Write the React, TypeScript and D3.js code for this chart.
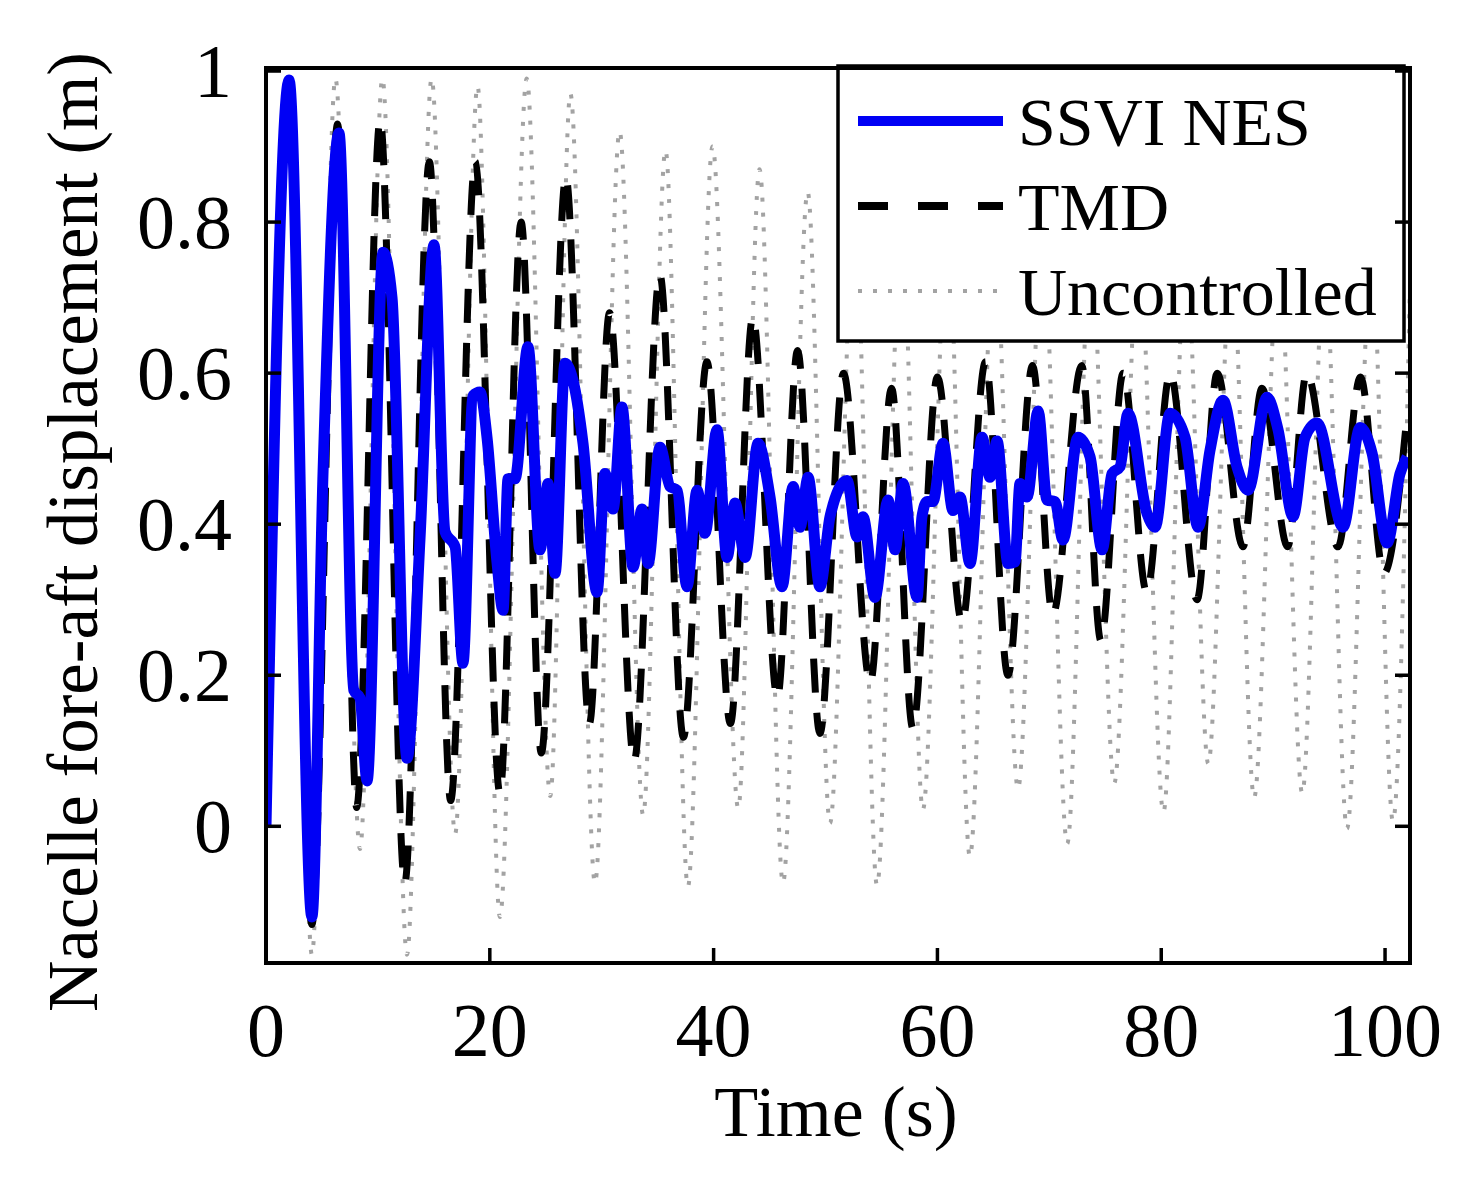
import React from 'react';
import * as d3 from 'd3';

// axis ticks
const xTicks = [0, 20, 40, 60, 80, 100];
const yTicks = [0, 0.2, 0.4, 0.6, 0.8, 1];
const yTickLabels = ['0', '0.2', '0.4', '0.6', '0.8', '1'];

// [time (s), displacement (m)] samples for each case
const ssviNes: [number, number][] = [
  [0, 0], [2.06, 0.988], [4.1, -0.12], [5.1, 0.47], [6.52, 0.918], [7.85, 0.18], [8.4, 0.17],
  [9.03, 0.06], [10.46, 0.76], [11.26, 0.7], [12.6, 0.09], [13.76, 0.38], [15.01, 0.77],
  [16.0, 0.39], [16.9, 0.37], [17.6, 0.216], [18.5, 0.57], [19.12, 0.575], [19.75, 0.515],
  [20.64, 0.35], [21.18, 0.286], [21.63, 0.46], [22.25, 0.46], [23.41, 0.635], [24.49, 0.366],
  [25.2, 0.454], [25.83, 0.335], [26.72, 0.613], [27.44, 0.59], [28.33, 0.507], [29.58, 0.31],
  [30.29, 0.467], [31.01, 0.42], [31.81, 0.555], [32.8, 0.343], [33.6, 0.42], [34.14, 0.348],
  [35.21, 0.502], [36.1, 0.45], [36.73, 0.445], [37.62, 0.317], [38.52, 0.445], [39.23, 0.388],
  [40.3, 0.525], [41.2, 0.356], [41.91, 0.428], [42.81, 0.356], [43.97, 0.507], [45.04, 0.436],
  [46.11, 0.317], [47.1, 0.45], [47.72, 0.396], [48.44, 0.462], [49.5, 0.317], [50.4, 0.41],
  [51.92, 0.458], [52.82, 0.383], [53.35, 0.41], [54.42, 0.303], [55.59, 0.432], [56.21, 0.366],
  [56.93, 0.454], [58.18, 0.303], [58.62, 0.41], [59.07, 0.43], [59.6, 0.43], [60.5, 0.507],
  [61.39, 0.418], [62.02, 0.436], [62.91, 0.348], [63.99, 0.515], [64.7, 0.462], [65.33, 0.51],
  [66.31, 0.348], [66.93, 0.35], [67.38, 0.454], [68.01, 0.436], [69.0, 0.55], [69.79, 0.432],
  [70.51, 0.43], [71.22, 0.379], [72.56, 0.515], [73.64, 0.489], [74.71, 0.366], [75.6, 0.467],
  [76.32, 0.476], [77.03, 0.547], [78.73, 0.414], [79.45, 0.396], [80.79, 0.547], [82.13, 0.515],
  [83.29, 0.396], [84.36, 0.498], [85.52, 0.564], [86.77, 0.476], [87.76, 0.445], [89.45, 0.568],
  [90.44, 0.525], [91.78, 0.41], [92.85, 0.515], [93.92, 0.534], [96.25, 0.396], [97.77, 0.528],
  [98.84, 0.494], [100.18, 0.375], [101.34, 0.467], [101.97, 0.489],
];

const tmd: [number, number][] = [
  [0, 0], [2.0, 0.99], [4.1, -0.13], [6.4, 0.93], [8.1, 0.025], [10.2, 0.935], [12.4, -0.075],
  [14.6, 0.88], [16.5, 0.034], [18.7, 0.88], [20.9, 0.044], [22.8, 0.8], [24.6, 0.097],
  [26.8, 0.86], [28.9, 0.136], [30.7, 0.68], [32.9, 0.087], [35.2, 0.73], [37.3, 0.118],
  [39.4, 0.615], [41.5, 0.136], [43.5, 0.674], [45.7, 0.17], [47.5, 0.63], [49.5, 0.123],
  [51.6, 0.6], [54.0, 0.19], [55.9, 0.58], [57.8, 0.13], [60.0, 0.595], [62.2, 0.27],
  [64.3, 0.615], [66.3, 0.2], [68.5, 0.61], [70.3, 0.28], [72.9, 0.61], [74.6, 0.246],
  [76.6, 0.6], [78.7, 0.31], [80.8, 0.6], [83.2, 0.3], [85.0, 0.6], [87.3, 0.37], [89.0, 0.58],
  [91.3, 0.37], [93.0, 0.6], [95.8, 0.37], [97.8, 0.595], [99.9, 0.335], [102.0, 0.55],
];

const uncontrolled: [number, number][] = [
  [0, 0], [2.0, 0.99], [4.1, -0.17], [6.2, 0.99], [8.4, -0.03], [10.4, 0.99], [12.6, -0.17],
  [14.8, 0.99], [16.9, -0.01], [18.9, 0.98], [20.9, -0.12], [23.3, 0.99], [25.4, 0.04],
  [27.2, 0.97], [29.4, -0.075], [31.6, 0.92], [33.7, 0.015], [35.7, 0.895], [37.7, -0.08],
  [39.9, 0.9], [42.2, 0.024], [44.1, 0.87], [46.2, -0.075], [48.4, 0.84], [50.4, 0.004],
  [52.6, 0.82], [54.6, -0.078], [56.8, 0.8], [58.7, 0.022], [60.9, 0.8], [62.9, -0.04],
  [65.1, 0.78], [67.2, 0.05], [69.4, 0.78], [71.6, -0.023], [73.7, 0.77], [75.8, 0.057],
  [78.0, 0.77], [80.2, 0.019], [82.2, 0.76], [84.2, 0.083], [86.3, 0.76], [88.3, 0.038],
  [90.5, 0.76], [92.6, 0.044], [94.6, 0.75], [96.6, -0.003], [98.8, 0.76], [100.7, 0.007],
  [102.2, 0.7],
];

const legendItems = [
  { label: 'SSVI NES', color: '#0000f5', width: 10, dash: undefined as string | undefined },
  { label: 'TMD', color: '#000', width: 8, dash: '30,30' },
  { label: 'Uncontrolled', color: '#a3a3a3', width: 4, dash: '4,11' },
];

const FONT = '"Liberation Serif", "Times New Roman", serif';

export default function App() {
  const plot = { left: 266, right: 1410, top: 68, bottom: 963 };
  const x = d3.scaleLinear().domain([0, 102.23]).range([plot.left, plot.right]);
  const y = d3.scaleLinear().domain([-0.181, 1.004]).range([plot.bottom, plot.top]);

  const line = d3
    .line<[number, number]>()
    .x(d => x(d[0]))
    .y(d => y(d[1]))
    .curve(d3.curveMonotoneX);

  const tickLen = 15;
  const legend = { x: 838, y: 66, w: 566, h: 275 };

  return (
    <div style={{ position: 'absolute', left: 0, top: 0, background: '#fff' }}>
      <svg width={1471} height={1177} style={{ display: 'block', fontFamily: FONT }}>
        <rect width={1471} height={1177} fill="#fff" />
        <defs>
          <clipPath id="plot-area">
            <rect x={plot.left} y={plot.top} width={plot.right - plot.left} height={plot.bottom - plot.top} />
          </clipPath>
        </defs>

        {/* response curves */}
        <g clipPath="url(#plot-area)" fill="none">
          <path d={line(uncontrolled) ?? ''} stroke="#a3a3a3" strokeWidth={4} strokeDasharray="4,11" />
          <path d={line(tmd) ?? ''} stroke="#000" strokeWidth={7} strokeDasharray="34,20" />
          <path d={line(ssviNes) ?? ''} stroke="#0000f5" strokeWidth={11} strokeLinejoin="round" />
        </g>

        {/* legend */}
        <g>
          <rect x={legend.x} y={legend.y} width={legend.w} height={legend.h} fill="#fff" stroke="#000" strokeWidth={3.5} />
          {legendItems.map((item, i) => {
            const cy = 121 + i * 85;
            return (
              <g key={item.label}>
                <line x1={858} x2={1003} y1={cy} y2={cy} stroke={item.color} strokeWidth={item.width} strokeDasharray={item.dash} />
                <text x={1018} y={cy + 24} fontSize={68} fill="#000">{item.label}</text>
              </g>
            );
          })}
        </g>

        {/* axes box */}
        <rect
          x={plot.left}
          y={plot.top}
          width={plot.right - plot.left}
          height={plot.bottom - plot.top}
          fill="none"
          stroke="#000"
          strokeWidth={4}
        />

        {/* x ticks */}
        {xTicks.map(t => (
          <g key={`x${t}`}>
            <line x1={x(t)} x2={x(t)} y1={plot.bottom} y2={plot.bottom - tickLen} stroke="#000" strokeWidth={3.5} />
            <text x={x(t)} y={1056} fontSize={76} textAnchor="middle" fill="#000">{t}</text>
          </g>
        ))}

        {/* y ticks, both sides */}
        {yTicks.map((v, i) => (
          <g key={`y${v}`}>
            <line x1={plot.left} x2={plot.left + tickLen} y1={y(v)} y2={y(v)} stroke="#000" strokeWidth={3.5} />
            <line x1={plot.right} x2={plot.right - tickLen} y1={y(v)} y2={y(v)} stroke="#000" strokeWidth={3.5} />
            <text x={232} y={y(v) + 26} fontSize={76} textAnchor="end" fill="#000">{yTickLabels[i]}</text>
          </g>
        ))}

        {/* axis titles */}
        <text x={836} y={1136} fontSize={72} textAnchor="middle" fill="#000">Time (s)</text>
        <text transform="translate(97,532) rotate(-90)" fontSize={71} textAnchor="middle" fill="#000">
          Nacelle fore-aft displacement (m)
        </text>
      </svg>
    </div>
  );
}
